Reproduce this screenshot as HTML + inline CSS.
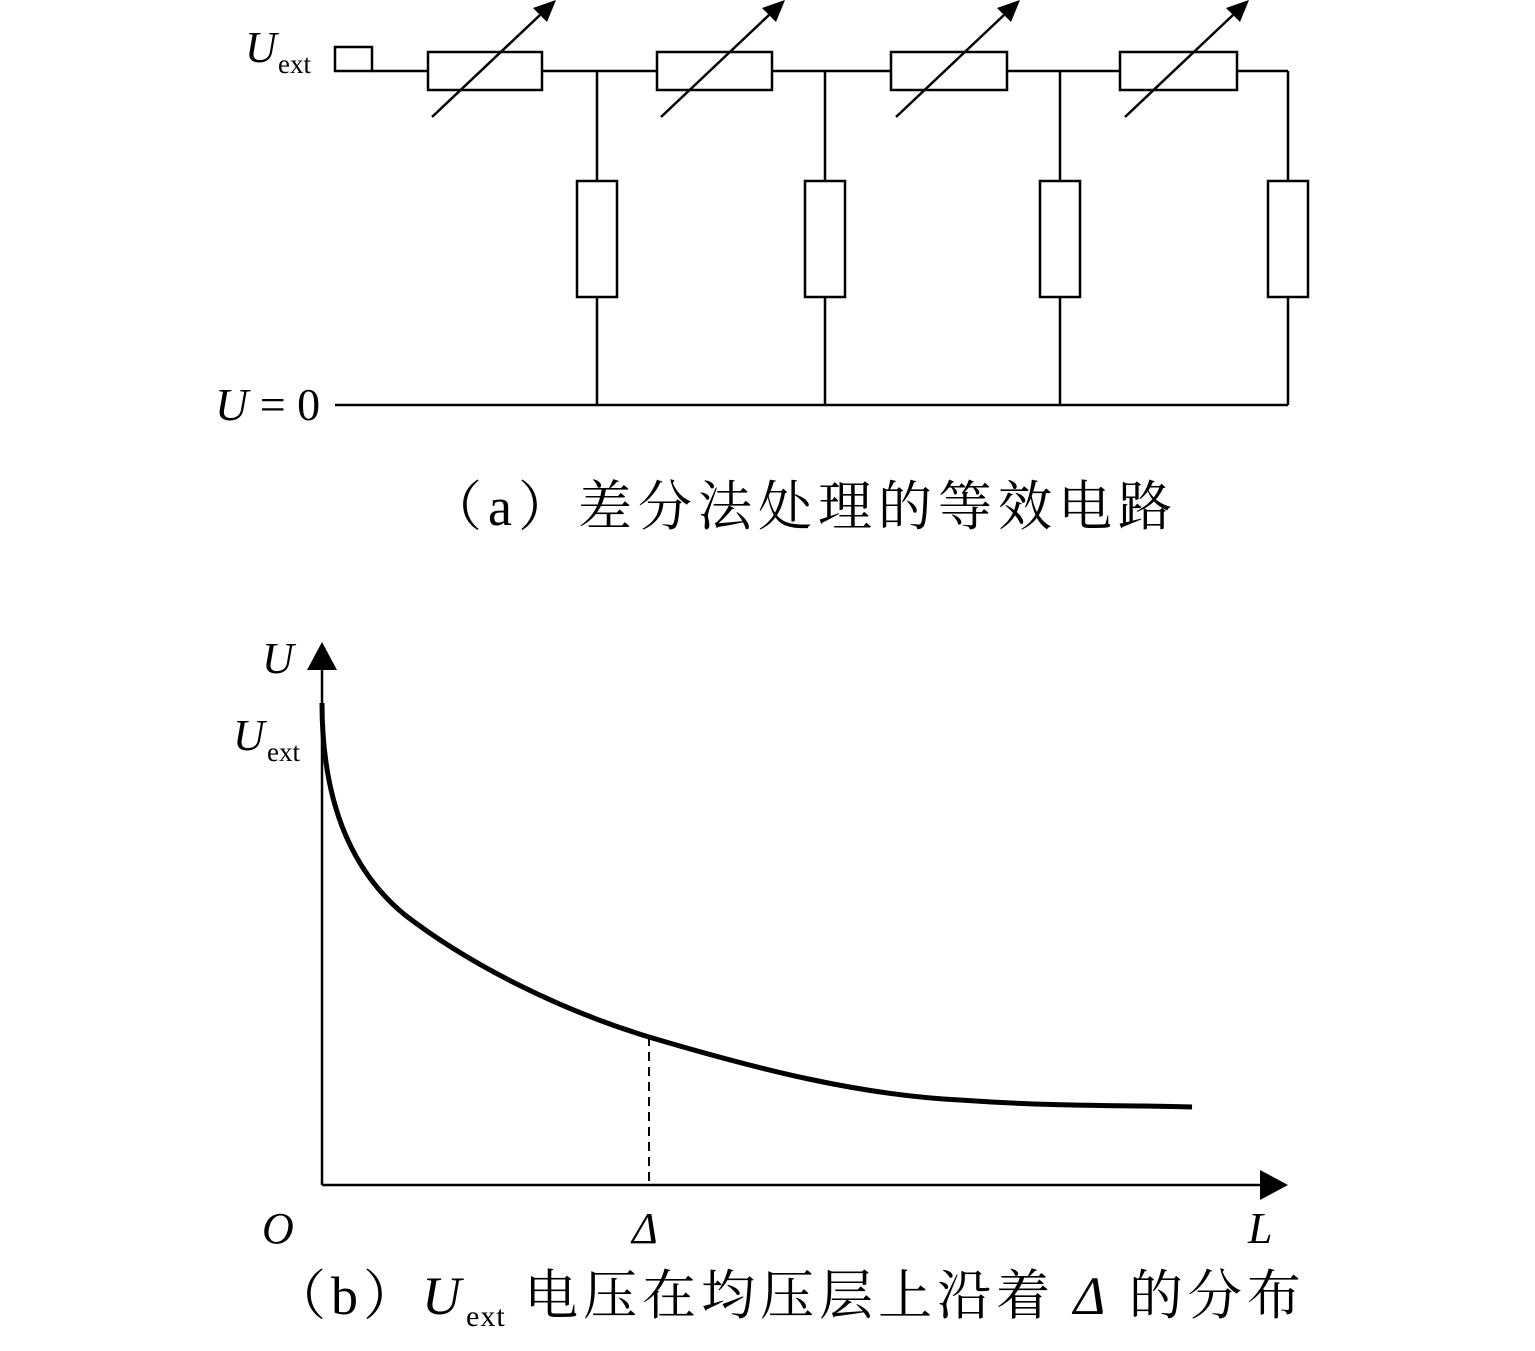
<!DOCTYPE html>
<html><head><meta charset="utf-8"><style>
body{margin:0;background:#fff}
svg{display:block}
text{font-family:"Liberation Serif","Noto Serif CJK SC",serif;fill:#000}
</style></head><body>
<svg width="1535" height="1351" viewBox="0 0 1535 1351" xmlns="http://www.w3.org/2000/svg">
<g stroke="#000" stroke-width="2.5" fill="none">
<rect x="335" y="47" width="37" height="24"/>
<line x1="372" y1="71" x2="428" y2="71"/>
<rect x="428" y="52" width="114" height="38"/>
<line x1="542" y1="71" x2="657" y2="71"/>
<rect x="657" y="52" width="115" height="38"/>
<line x1="772" y1="71" x2="891" y2="71"/>
<rect x="891" y="52" width="116" height="38"/>
<line x1="1007" y1="71" x2="1120" y2="71"/>
<rect x="1120" y="52" width="117" height="38"/>
<line x1="1237" y1="71" x2="1288" y2="71"/>
<line x1="597" y1="71" x2="597" y2="181"/><rect x="577" y="181" width="40" height="116"/><line x1="597" y1="297" x2="597" y2="405"/>
<line x1="825" y1="71" x2="825" y2="181"/><rect x="805" y="181" width="40" height="116"/><line x1="825" y1="297" x2="825" y2="405"/>
<line x1="1060" y1="71" x2="1060" y2="181"/><rect x="1040" y="181" width="40" height="116"/><line x1="1060" y1="297" x2="1060" y2="405"/>
<line x1="1288" y1="71" x2="1288" y2="181"/><rect x="1268" y="181" width="40" height="116"/><line x1="1288" y1="297" x2="1288" y2="405"/>
<line x1="335" y1="405" x2="1288" y2="405"/>
</g>
<g stroke="#000" stroke-width="2.5">
<line x1="432" y1="117" x2="540" y2="15"/><path d="M556,0 L547,22 L533,8 z" fill="#000" stroke="none"/>
<line x1="661" y1="117" x2="769" y2="15"/><path d="M785,0 L776,22 L762,8 z" fill="#000" stroke="none"/>
<line x1="896" y1="117" x2="1004" y2="15"/><path d="M1020,0 L1011,22 L997,8 z" fill="#000" stroke="none"/>
<line x1="1125" y1="117" x2="1233" y2="15"/><path d="M1249,0 L1240,22 L1226,8 z" fill="#000" stroke="none"/>
</g>
<text x="245" y="62" font-size="44" font-style="italic">U</text>
<text x="278" y="73" font-size="27">ext</text>
<text x="215" y="420" font-size="46"><tspan font-style="italic">U</tspan> = 0</text>
<text x="428" y="525" font-size="54" letter-spacing="6">（a）差分法处理的等效电路</text>

<g stroke="#000" stroke-width="2.5" fill="none">
<line x1="322" y1="1185" x2="322" y2="668"/>
<line x1="322" y1="1185" x2="1262" y2="1185"/>
<line x1="649" y1="1037" x2="649" y2="1185" stroke-dasharray="9,6" stroke-width="2"/>
</g>
<path d="M322,642 L337,670 L307,670 z" fill="#000"/>
<path d="M1288,1185 L1260,1170 L1260,1200 z" fill="#000"/>
<path d="M322,703 C322,800 350,870 405,915 C470,965 560,1010 649,1037 C760,1070 860,1095 960,1100 C1060,1107 1130,1105 1192,1107" stroke="#000" stroke-width="5" fill="none"/>
<text x="262" y="673" font-size="44" font-style="italic">U</text>
<text x="233" y="750" font-size="44" font-style="italic">U</text>
<text x="267" y="761" font-size="27">ext</text>
<text x="262" y="1243" font-size="44" font-style="italic">O</text>
<text x="632" y="1243" font-size="44" font-style="italic">Δ</text>
<text x="1248" y="1243" font-size="44" font-style="italic">L</text>
<text x="272" y="1314" font-size="54" letter-spacing="5">（b）<tspan font-style="italic">U</tspan><tspan font-size="30" dy="12" letter-spacing="1">ext</tspan><tspan dy="-12"> 电压在均压层上沿着 </tspan><tspan font-style="italic">Δ</tspan> 的分布</text>
</svg>
</body></html>
